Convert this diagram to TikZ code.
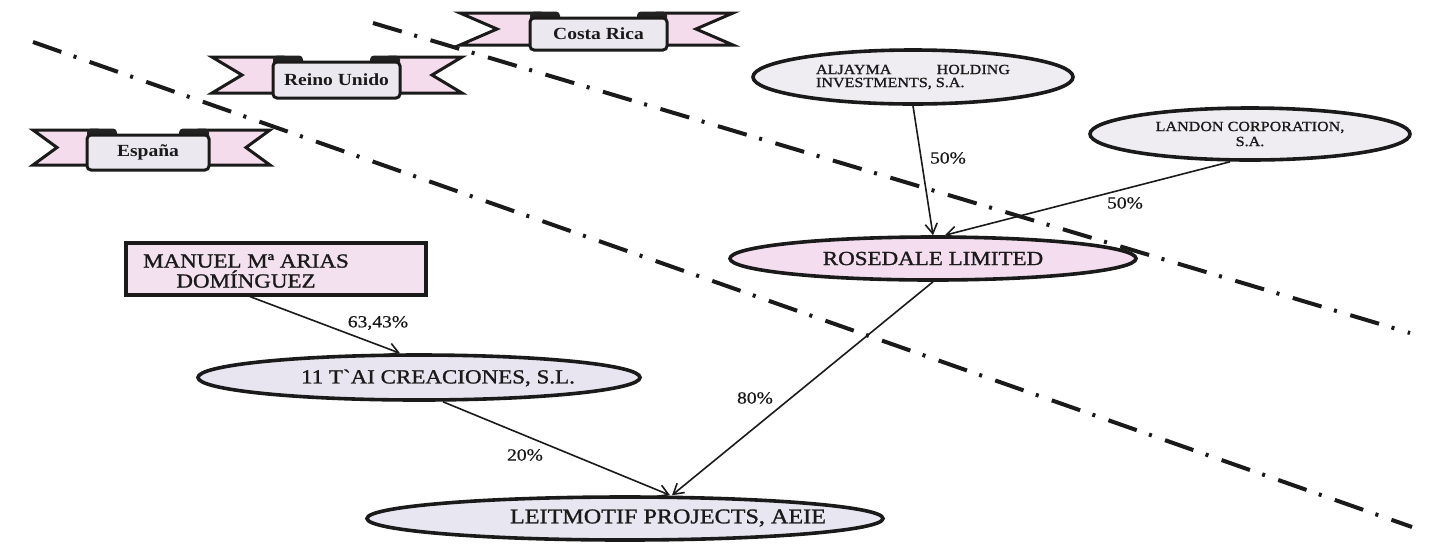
\documentclass[tikz,border=0pt]{standalone}
\usepackage{fontspec}
\setmainfont{Liberation Serif}[FakeStretch=1.15]
\newfontfamily\entfont{Liberation Serif}[FakeStretch=1.15, FakeBold=1.2]
\newfontfamily\pctfont{Liberation Serif}[FakeStretch=1.15, FakeBold=0.6]
\usetikzlibrary{arrows.meta,calc,shapes.geometric}
\definecolor{bandpink}{HTML}{F4DCEC}
\definecolor{boxfill}{HTML}{ECE8F0}
\definecolor{tabc}{HTML}{222222}
\definecolor{rosfill}{HTML}{F3DDEF}
\definecolor{topfill}{HTML}{EFEDF2}
\definecolor{taifill}{HTML}{E8E5F0}
\definecolor{leitfill}{HTML}{E8E7F1}
\definecolor{manfill}{HTML}{F3E1F0}
\definecolor{ink}{HTML}{1A1A1A}
\newcommand\ribbon[9]{%
 \draw[band] ({#1},{#5-5}) -- ({#3+10},{#5-5}) -- ({#3+10},{#6-5}) -- ({#1},{#6-5}) -- ({#1+#7},{(#5+#6)/2-5}) -- cycle;
 \draw[band] ({#2},{#5-5}) -- ({#4-10},{#5-5}) -- ({#4-10},{#6-5}) -- ({#2},{#6-5}) -- ({#2-#7},{(#5+#6)/2-5}) -- cycle;
 \fill[tabc, rounded corners=2pt] ({#3},{#5-6.5}) rectangle ({#3+30},{#5+3});
 \fill[tabc, rounded corners=2pt] ({#4-30},{#5-6.5}) rectangle ({#4},{#5+3});
 \node[bbox, minimum width={(#4-#3)*0.5pt}, minimum height={(#6-#5)*0.5pt}] (#8) at ({(#3+#4)/2},{(#5+#6)/2}) {#9};
}
\begin{document}
\begin{tikzpicture}[x=0.5pt,y=-0.5pt,
  band/.style={draw=ink, line width=1.5pt, fill=bandpink, line join=miter},
  bbox/.style={draw=ink, line width=1.5pt, rounded corners=2pt, fill=boxfill, inner sep=0pt,
    font=\bfseries\fontsize{8.5}{10}\selectfont, text=ink},
  ell/.style={ellipse, draw=ink, line width=1.8pt, inner sep=0pt, text=ink},
  txt/.style={inner sep=0pt, text=ink},
  lbl/.style={inner sep=0pt, text=ink, font=\pctfont\fontsize{8.5}{10}\selectfont},
  conn/.style={draw=ink, line width=0.8pt, -{Straight Barb[length=5pt,width=6pt]}},
  sep/.style={draw=ink, line width=2pt, dash pattern=on 15pt off 6.5pt on 1.5pt off 7pt}]
\useasboundingbox (0,0) rectangle (1447,543);
\fill[white] (0,0) rectangle (1447,543);

% country ribbons
\ribbon{33}{270}{87}{209}{135}{170}{24}{espana}{España}
\ribbon{212}{462}{273}{400}{62}{98}{30}{reino}{Reino Unido}
\ribbon{460}{733}{530}{667}{18}{50}{37}{costa}{Costa Rica}

% entities
\node[ell, fill=topfill, minimum width=160pt, minimum height=27pt, align=center,
  font=\entfont\fontsize{7}{6.5}\selectfont] (alj) at (913,77)
  {\makebox[97pt][s]{ALJAYMA\hfill HOLDING}\\\makebox[97pt][l]{INVESTMENTS, S.A.}};
\node[ell, fill=topfill, minimum width=160pt, minimum height=26pt, align=center,
  font=\entfont\fontsize{7}{7.5}\selectfont] (lan) at (1250,134) {LANDON CORPORATION,\\S.A.};
\node[ell, fill=rosfill, minimum width=203pt, minimum height=21.5pt,
  font=\entfont\fontsize{10}{12}\selectfont] (ros) at (933,258.5) {ROSEDALE LIMITED};
\node[draw=ink, line width=1.6pt, fill=manfill, minimum width=150pt, minimum height=26pt,
  inner sep=0pt] (manuel) at (276,269) {};
\node[txt, align=center, font=\entfont\fontsize{10}{10}\selectfont] (mantext) at (246,271)
  {MANUEL Mª ARIAS\\DOMÍNGUEZ};
\node[ell, fill=taifill, minimum width=221pt, minimum height=22.5pt] (tai) at (419,377.5) {};
\node[txt, font=\entfont\fontsize{10}{12}\selectfont] (taitext) at (438,378) {11 T{\char"60}AI CREACIONES, S.L.};
\node[ell, fill=leitfill, minimum width=258pt, minimum height=21.5pt] (leit) at (625,518.5) {};
\node[txt, font=\entfont\fontsize{10.5}{12}\selectfont] (leittext) at (668,518) {LEITMOTIF PROJECTS, AEIE};

% connectors
\draw[conn] (alj.south) -- (ros.north);
\draw[conn] ($(lan.south)+(-20,0)$) -- ($(ros.north)+(12,0)$);
\draw[conn] (ros.south) -- ($(leit.north)+(47,0)$);
\draw[conn] ($(tai.south)+(24,0)$) -- ($(leit.north)+(45,0)$);
\draw[conn] ($(manuel.south)+(-26,0)$) -- ($(tai.north)+(-19,0)$);

% percentages
\node[lbl] (p1) at (948,158) {50\%};
\node[lbl] (p2) at (1125,203) {50\%};
\node[lbl] (p3) at (378,323) {63,43\%};
\node[lbl] (p4) at (525,455) {20\%};
\node[lbl] (p5) at (755,398) {80\%};

% jurisdiction boundaries
\coordinate (s1a) at (33,42);
\coordinate (s1b) at (1412,527);
\coordinate (s2a) at (373,23);
\coordinate (s2b) at (1410,333);
\draw[sep] (s1a) -- (s1b);
\draw[sep] (s2a) -- (s2b);
\end{tikzpicture}
\end{document}
